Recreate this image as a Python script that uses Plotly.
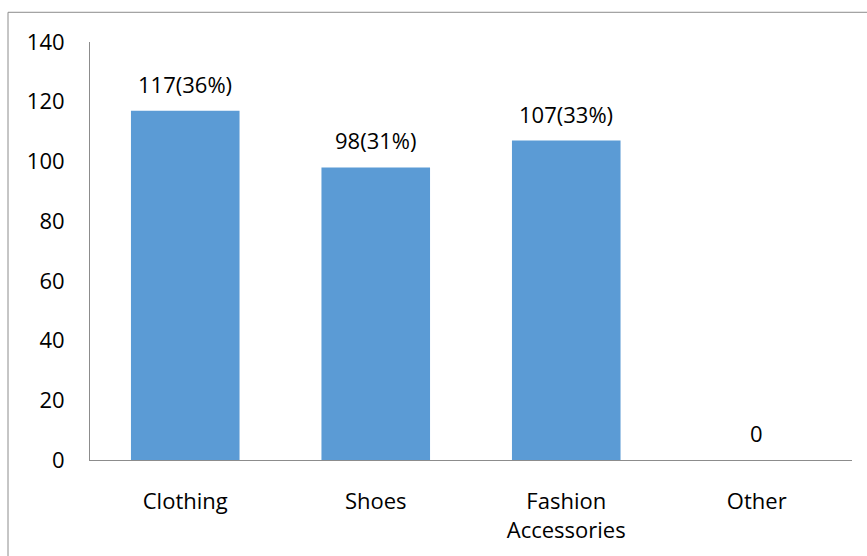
import plotly.graph_objects as go

categories = ["Clothing", "Shoes", "Fashion<br>Accessories", "Other"]
values = [117, 98, 107, 0]
value_labels = ["117(36%)", "98(31%)", "107(33%)", "0"]
y_ticks = [0, 20, 40, 60, 80, 100, 120, 140]

W, H = 867, 556
L, R, T, B = 90, 15, 42, 92
pw, ph = W - L - R, H - T - B

fig = go.Figure()
fig.add_trace(go.Bar(
    x=categories, y=values,
    marker=dict(color="#5B9BD5", line=dict(width=0)),
    hoverinfo="skip",
))

for c, v, t in zip(categories, values, value_labels):
    fig.add_annotation(x=c, y=v, text=t, showarrow=False, yanchor="bottom",
                       yshift=10, font=dict(size=22, color="#000000"))

def px_to_paper_x(px):
    return (px - L) / pw

def px_to_paper_y(py):
    return (H - B - py) / ph

fig.add_shape(type="rect", xref="paper", yref="paper",
              x0=px_to_paper_x(8), x1=px_to_paper_x(880),
              y0=px_to_paper_y(570), y1=px_to_paper_y(12),
              line=dict(color="#8C8C8C", width=1), fillcolor="rgba(0,0,0,0)",
              layer="below")

fig.update_layout(
    width=W, height=H,
    margin=dict(l=L, r=R, t=T, b=B, pad=0),
    paper_bgcolor="white", plot_bgcolor="white",
    font=dict(family="Open Sans", size=22, color="#000000"),
    bargap=0.43,
    showlegend=False,
    xaxis=dict(showline=True, linecolor="#8C8C8C", linewidth=1, showgrid=False,
               ticks="", ticklabelstandoff=22, fixedrange=True),
    yaxis=dict(range=[0, 140], tickvals=y_ticks, showline=True, linecolor="#8C8C8C",
               linewidth=1, showgrid=False, zeroline=False, ticks="",
               ticklabelstandoff=20, fixedrange=True),
)

fig.write_html("out.html", config={"displayModeBar": False},
               post_script="document.body.style.margin='0';document.body.style.overflow='hidden';")
